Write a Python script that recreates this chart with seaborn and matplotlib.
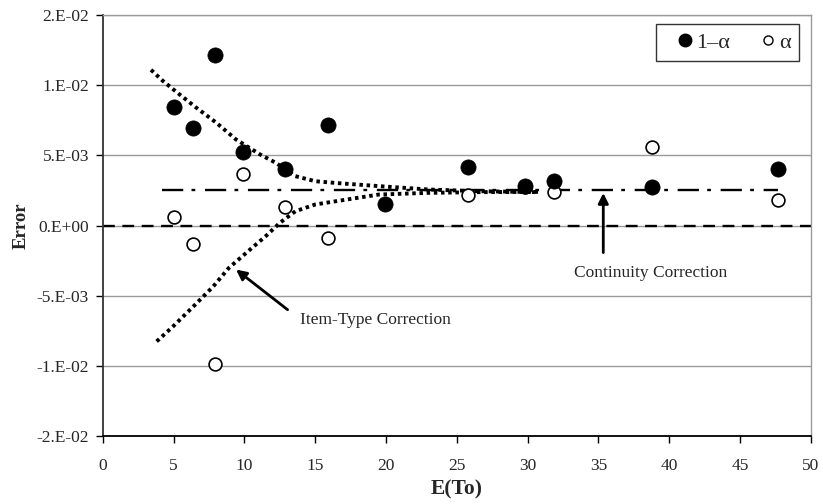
import matplotlib
matplotlib.use("Agg")
import matplotlib.pyplot as plt
import seaborn as sns
import pandas as pd
from matplotlib.lines import Line2D

# ---- data ----
x_one_minus = [5.0, 6.4, 7.9, 9.9, 12.9, 15.9, 19.9, 25.8, 29.8, 31.9, 38.8, 47.7]
y_one_minus = [0.00845, 0.00693, 0.01214, 0.00524, 0.0040, 0.00714, 0.00155,
               0.00417, 0.00281, 0.00321, 0.00274, 0.00405]
x_alpha = [5.0, 6.4, 7.9, 9.9, 12.9, 15.9, 25.8, 29.8, 31.9, 38.8, 47.7]
y_alpha = [0.00064, -0.00131, -0.00988, 0.00369, 0.00133, -0.00088,
           0.00221, 0.00275, 0.00238, 0.00559, 0.00179]

upper_x = [3.4, 4.25, 5.2, 6.6, 8.0, 9.4, 11.1, 12.2, 13.6, 15.0, 16.5, 19.5, 23.0, 26.5, 30.8]
upper_y = [0.0111, 0.0103, 0.00952, 0.0084, 0.00734, 0.00614, 0.00507, 0.00448,
           0.00352, 0.00316, 0.00303, 0.00281, 0.00257, 0.00245, 0.00238]
lower_x = [3.8, 4.95, 6.4, 7.8, 8.9, 10.4, 11.5, 12.5, 13.6, 15.0, 16.5, 19.5, 23.0, 26.5, 30.8]
lower_y = [-0.00826, -0.0072, -0.00576, -0.00434, -0.00302, -0.00171, -0.00076, 0.00019,
           0.00102, 0.0015, 0.00174, 0.00221, 0.00233, 0.00238, 0.0024]

cc_x = [4.2, 47.7]
cc_y = [0.0025, 0.0025]
zero_x = [0, 50]
zero_y = [0.0, 0.0]

yticks = [-0.015, -0.01, -0.005, 0.0, 0.005, 0.01, 0.015]
ytick_labels = ["-2.E-02", "-1.E-02", "-5.E-03", "0.E+00", "5.E-03", "1.E-02", "2.E-02"]
xticks = [0, 5, 10, 15, 20, 25, 30, 35, 40, 45, 50]

sns.set_theme(style="white")
plt.rcParams['font.family'] = ['Liberation Serif', 'DejaVu Serif']

fig = plt.figure(figsize=(8.23, 5.04), dpi=100)
ax = fig.add_axes([0.125, 0.135, 0.860, 0.835])

# grid lines
for yv in yticks:
    ax.axhline(yv, color="#9a9a9a", lw=1.0, zorder=0)

# reference lines
sns.lineplot(x=zero_x, y=zero_y, ax=ax, color="black", lw=1.7,
             linestyle=(0, (5, 3.2)), zorder=2)
sns.lineplot(x=cc_x, y=cc_y, ax=ax, color="black", lw=1.7,
             linestyle=(0, (9, 3.5, 1.6, 4.1)), zorder=2)

# item-type curves
df_up = pd.DataFrame({"x": upper_x, "y": upper_y})
df_lo = pd.DataFrame({"x": lower_x, "y": lower_y})
sns.lineplot(data=df_up, x="x", y="y", ax=ax, color="black", lw=2.8,
             linestyle=(0, (0.9, 0.95)), sort=False, zorder=3)
sns.lineplot(data=df_lo, x="x", y="y", ax=ax, color="black", lw=2.8,
             linestyle=(0, (0.9, 0.95)), sort=False, zorder=3)

# points
sns.scatterplot(x=x_alpha, y=y_alpha, ax=ax, marker="o", s=85,
                facecolor="white", edgecolor="black", linewidth=1.2, zorder=4)
sns.scatterplot(x=x_one_minus, y=y_one_minus, ax=ax, marker="o", s=120,
                color="black", edgecolor="black", linewidth=0.5, zorder=5)

ax.set_xlim(0, 50)
ax.set_ylim(-0.015, 0.015)
ax.set_xticks(xticks)
ax.set_xticklabels([str(v) for v in xticks], fontsize=12.5)
ax.set_yticks(yticks)
ax.set_yticklabels(ytick_labels, fontsize=12.5)
ax.tick_params(axis="both", direction="out", length=5, width=1, color="black")
ax.tick_params(axis="y", pad=5)
ax.tick_params(axis="x", pad=11)
ax.xaxis.set_ticks_position("bottom")
ax.yaxis.set_ticks_position("left")

for side in ["top", "right"]:
    ax.spines[side].set_color("#9a9a9a")
    ax.spines[side].set_linewidth(1.0)
ax.spines["left"].set_color("#333333")
ax.spines["left"].set_linewidth(1.3)
ax.spines["bottom"].set_color("black")
ax.spines["bottom"].set_linewidth(1.3)

ax.set_xlabel("E(To)", fontsize=15.5, fontweight="bold", labelpad=4)
ax.set_ylabel("Error", fontsize=13.5, fontweight="bold", labelpad=5)

# annotations
ax.text(38.66, -0.00336, "Continuity Correction", fontsize=12.5, ha="center", va="center")
ax.annotate("", xy=(35.35, 0.00232), xytext=(35.35, -0.00193),
            arrowprops=dict(arrowstyle="-|>", color="black", lw=2,
                            mutation_scale=15, shrinkA=0, shrinkB=0))
ax.text(19.27, -0.00671, "Item-Type Correction", fontsize=12.5, ha="center", va="center")
ax.annotate("", xy=(9.41, -0.00314), xytext=(13.05, -0.0060),
            arrowprops=dict(arrowstyle="-|>", color="black", lw=2,
                            mutation_scale=15, shrinkA=0, shrinkB=0))

handles = [
    Line2D([], [], marker="o", linestyle="none", markersize=9, markerfacecolor="black",
           markeredgecolor="black", label="1\u2013\u03b1"),
    Line2D([], [], marker="o", linestyle="none", markersize=6.5, markerfacecolor="white",
           markeredgecolor="black", markeredgewidth=1.0, label="\u03b1"),
]
leg = ax.legend(handles=handles, loc="upper right", ncol=2, fontsize=16,
                frameon=True, fancybox=False, edgecolor="black",
                handletextpad=-0.45, columnspacing=0.75, handlelength=1.9,
                borderpad=0.38, borderaxespad=0, bbox_to_anchor=(0.984, 0.979))
leg.get_frame().set_linewidth(1.0)

fig.savefig("out.png", dpi=100)
